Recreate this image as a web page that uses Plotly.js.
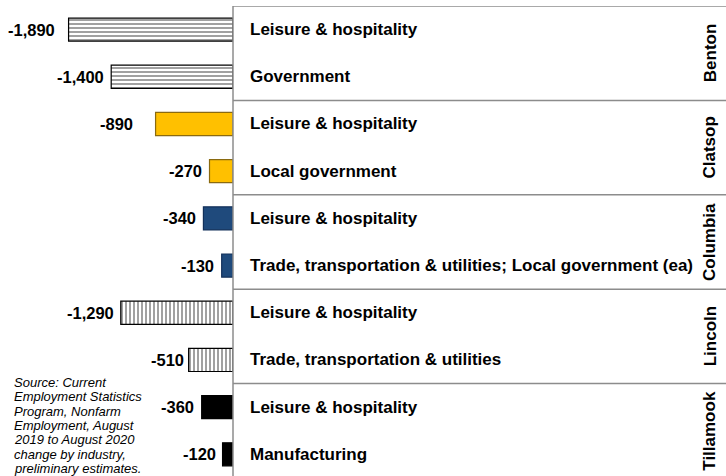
<!DOCTYPE html>
<html>
<head>
<meta charset="utf-8">
<script src="https://cdn.plot.ly/plotly-3.0.1.min.js"></script>
<style>
html,body{margin:0;padding:0;background:#fff;}
#chart{width:726px;height:476px;}
</style>
</head>
<body>
<div id="chart"></div>
<script>
const counties = ["Benton", "Clatsop", "Columbia", "Lincoln", "Tillamook"];
const industries = [
  "Leisure & hospitality", "Government",
  "Leisure & hospitality", "Local government",
  "Leisure & hospitality", "Trade, transportation & utilities; Local government (ea)",
  "Leisure & hospitality", "Trade, transportation & utilities",
  "Leisure & hospitality", "Manufacturing"
];
const countyOf = ["Benton","Benton","Clatsop","Clatsop","Columbia","Columbia","Lincoln","Lincoln","Tillamook","Tillamook"];
const changes = [-1890, -1400, -890, -270, -340, -130, -1290, -510, -360, -120];
const sourceLines = [
  "Source: Current",
  "Employment Statistics",
  "Program, Nonfarm",
  "Employment, August",
  "2019 to August 2020",
  "change by industry,",
  "preliminary estimates."
];

// label gap (px) between value label and bar end, as placed in the reference
const labelGap = [14, 7, 23, 8, 7, 8, 7, 5, 8, 7];

const style = {
  Benton:   {color: "#ffffff", line: "#000000", shape: "-", fg: "#000000"},
  Clatsop:  {color: "#FFC000", line: "#8a6a10", shape: "",  fg: "#FFC000"},
  Columbia: {color: "#1F4A7C", line: "#13305a", shape: "",  fg: "#1F4A7C"},
  Lincoln:  {color: "#ffffff", line: "#000000", shape: "|", fg: "#000000"},
  Tillamook:{color: "#000000", line: "#000000", shape: "",  fg: "#000000"}
};

const W = 726, H = 476;
const X0 = 233;              // zero line pixel
const pxPerUnit = 0.087;
const xmin = -X0 / pxPerUnit;
const yIdx = changes.map((_, i) => i);

const trace = {
  type: "bar",
  orientation: "h",
  x: changes,
  y: yIdx,
  width: 0.49,
  marker: {
    color: countyOf.map(c => style[c].color),
    line: {color: countyOf.map(c => style[c].line), width: 1.2},
    pattern: {
      shape: countyOf.map(c => style[c].shape),
      fgcolor: countyOf.map(c => style[c].fg),
      bgcolor: countyOf.map(c => style[c].color),
      size: 4,
      solidity: 0.5,
      fillmode: "overlay"
    }
  },
  hoverinfo: "skip"
};

const fmt = v => (v < 0 ? "-" : "") + Math.abs(v).toLocaleString("en-US");
const font = {family: "Liberation Sans, Arial, sans-serif", size: 17, color: "#000", weight: "bold"};

const annotations = [];
changes.forEach((v, i) => {
  annotations.push({
    x: v, y: i, xref: "x", yref: "y", text: fmt(v), showarrow: false,
    xanchor: "right", yanchor: "middle", xshift: -labelGap[i] + 2,
    font: Object.assign({}, font, {size: 16.5})
  });
  annotations.push({
    x: 248 / W, y: i, xref: "paper", yref: "y", text: industries[i], showarrow: false,
    xanchor: "left", yanchor: "middle", font: font
  });
});
counties.forEach((c, g) => {
  annotations.push({
    x: 710 / W, y: 2 * g + 0.5, xref: "paper", yref: "y", text: c, showarrow: false,
    textangle: -90, xanchor: "center", yanchor: "middle", font: font
  });
});
sourceLines.forEach((t, k) => {
  annotations.push({
    x: 12 / W, y: 1 - (381 + 14.6 * k) / H, xref: "paper", yref: "paper", text: t, showarrow: false,
    xanchor: "left", yanchor: "middle",
    font: {family: "Liberation Sans, Arial, sans-serif", size: 13, color: "#000", style: "italic"}
  });
});

const lineStyle = {color: "#8c8c8c", width: 1.5};
const shapes = [
  {type: "line", xref: "paper", yref: "y", x0: X0 / W, x1: X0 / W, y0: -0.5, y1: 9.6, line: lineStyle},
  {type: "line", xref: "paper", yref: "y", x0: X0 / W, x1: 1, y0: -0.5, y1: -0.5, line: lineStyle}
];
[1.5, 3.5, 5.5, 7.5].forEach(yy => {
  shapes.push({type: "line", xref: "paper", yref: "y", x0: X0 / W, x1: 1, y0: yy, y1: yy, line: lineStyle});
});

const layout = {
  width: W, height: H,
  margin: {l: 0, r: 0, t: 6, b: 0},
  paper_bgcolor: "#fff", plot_bgcolor: "rgba(0,0,0,0)",
  showlegend: false,
  xaxis: {domain: [0, X0 / W], range: [xmin, 0], visible: false, fixedrange: true},
  yaxis: {range: [9.46, -0.5], visible: false, fixedrange: true},
  annotations: annotations,
  shapes: shapes
};

Plotly.newPlot("chart", [trace], layout, {displayModeBar: false, staticPlot: true});
</script>
</body>
</html>
